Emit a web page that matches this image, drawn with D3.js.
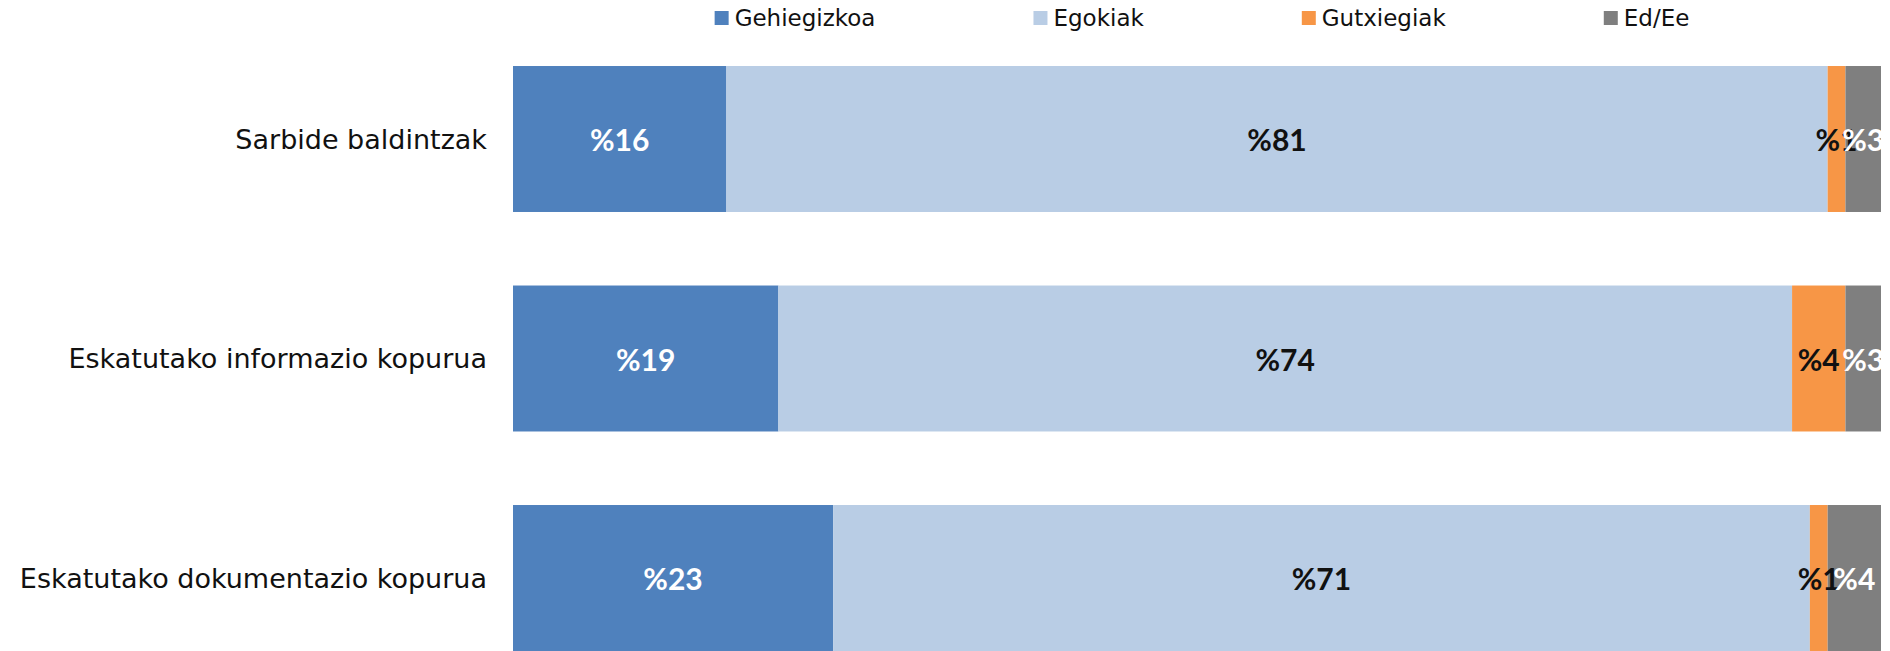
<!DOCTYPE html>
<html>
<head>
<meta charset="utf-8">
<script src="https://cdn.jsdelivr.net/npm/d3@7"></script>
<style>
  html, body { margin: 0; padding: 0; background: #fff; }
  svg { display: block; }
</style>
</head>
<body>
<svg id="chart" width="1890" height="651"></svg>
<script>
// ---- data ----
const categories = ["Sarbide baldintzak", "Eskatutako informazio kopurua", "Eskatutako dokumentazio kopurua"];
const seriesNames = ["Gehiegizkoa", "Egokiak", "Gutxiegiak", "Ed/Ee"];
const gehiegizkoa = [15.6, 19.4, 23.4];
const egokiak     = [80.5, 74.1, 71.4];
const gutxiegiak  = [1.3, 3.9, 1.3];
const edEe        = [2.6, 2.6, 3.9];
const colors      = ["#4F81BD", "#B9CDE5", "#F79646", "#7F7F7F"];
const labelColors = ["#ffffff", "#111111", "#111111", "#ffffff"];

const seriesValues = [gehiegizkoa, egokiak, gutxiegiak, edEe];
const rows = categories.map((c, i) => {
  const r = { cat: c };
  seriesNames.forEach((s, j) => r[s] = seriesValues[j][i]);
  return r;
});

const svg = d3.select("#chart");
const W = 1890, H = 651;
const plot = { left: 513, right: 1881 };

const x = d3.scaleLinear().domain([0, 100]).range([plot.left, plot.right]);
const y = d3.scaleBand().domain(categories).range([29.25, 687.75])
  .paddingInner(0.335).paddingOuter(0.1675);

const stack = d3.stack().keys(seriesNames)(rows);

svg.append("defs").append("clipPath").attr("id", "plotclip")
  .append("rect").attr("x", plot.left).attr("y", 0)
  .attr("width", plot.right - plot.left).attr("height", H);

const g = svg.append("g").attr("clip-path", "url(#plotclip)");

// bars
stack.forEach((layer, j) => {
  g.append("g").selectAll("rect").data(layer).join("rect")
    .attr("x", d => x(d[0]))
    .attr("y", d => y(d.data.cat))
    .attr("width", d => x(d[1]) - x(d[0]))
    .attr("height", y.bandwidth())
    .attr("fill", colors[j]);
});

// labels
stack.forEach((layer, j) => {
  g.append("g").selectAll("text").data(layer).join("text")
    .attr("x", d => (x(d[0]) + x(d[1])) / 2)
    .attr("y", d => y(d.data.cat) + y.bandwidth() / 2)
    .attr("text-anchor", "middle")
    .attr("dominant-baseline", "central")
    .attr("font-family", "Lato, 'DejaVu Sans', sans-serif")
    .attr("font-weight", "bold")
    .attr("font-size", 30)
    .attr("fill", labelColors[j])
    .text(d => "%" + Math.round(d[1] - d[0]));
});

// category labels
svg.append("g").selectAll("text").data(categories).join("text")
  .attr("x", 487)
  .attr("y", d => y(d) + y.bandwidth() / 2)
  .attr("text-anchor", "end")
  .attr("dominant-baseline", "central")
  .attr("font-family", "'DejaVu Sans', sans-serif")
  .attr("font-size", 27)
  .attr("fill", "#111")
  .text(d => d);

// legend
const legend = svg.append("g");
const items = legend.selectAll("g").data(seriesNames).join("g");
items.append("rect")
  .attr("width", 14).attr("height", 14)
  .attr("y", 11)
  .attr("fill", (d, i) => colors[i]);
items.append("text")
  .attr("x", 20).attr("y", 26)
  .attr("font-family", "'DejaVu Sans', sans-serif")
  .attr("font-size", 23)
  .attr("fill", "#111")
  .text(d => d);
let cx = 0;
const offsets = [];
items.each(function(d, i) {
  offsets.push(cx);
  const tw = d3.select(this).select("text").node().getComputedTextLength();
  cx += 20 + tw + 158;
});
const totalW = cx - 158;
const startX = (plot.left + plot.right) / 2 + 5 - totalW / 2;
items.attr("transform", (d, i) => `translate(${startX + offsets[i]},0)`);
</script>
</body>
</html>
